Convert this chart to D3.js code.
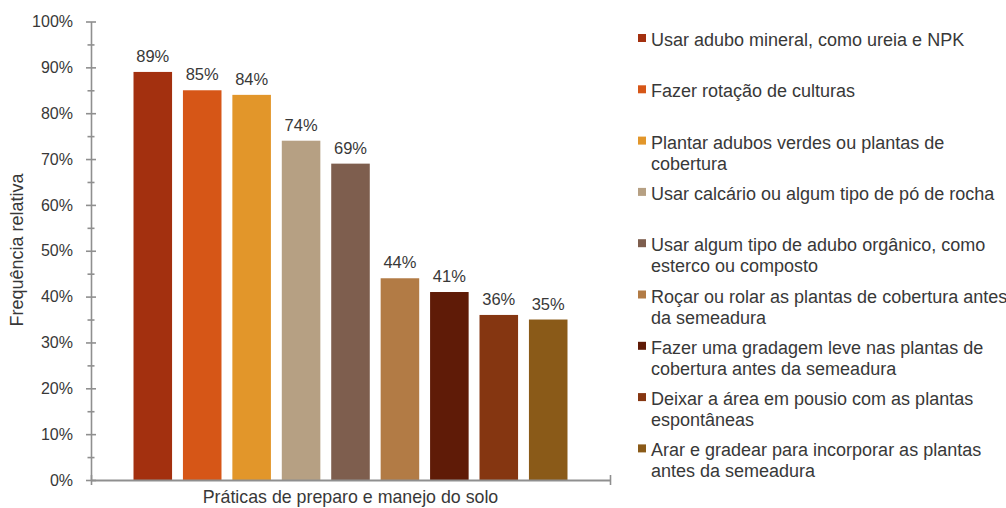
<!DOCTYPE html>
<html>
<head>
<meta charset="utf-8">
<script src="https://cdn.jsdelivr.net/npm/d3@7"></script>
<style>
  html, body { margin: 0; padding: 0; background: #fff; }
  svg { display: block; font-family: "Liberation Sans", Arial, sans-serif; }
</style>
</head>
<body>
<svg id="chart" width="1006" height="508"></svg>
<script>
// Práticas de preparo e manejo do solo — frequência relativa de adoção
const categories = [
  "Usar adubo mineral, como ureia e NPK",
  "Fazer rotação de culturas",
  "Plantar adubos verdes ou plantas de\ncobertura",
  "Usar calcário ou algum tipo de pó de rocha",
  "Usar algum tipo de adubo orgânico, como\nesterco ou composto",
  "Roçar ou rolar as plantas de cobertura antes\nda semeadura",
  "Fazer uma gradagem leve nas plantas de\ncobertura antes da semeadura",
  "Deixar a área em pousio com as plantas\nespontâneas",
  "Arar e gradear para incorporar as plantas\nantes da semeadura"
];
const values = [89, 85, 84, 74, 69, 44, 41, 36, 35];
const colors = ["#A3300F", "#D65617", "#E2962A", "#B6A083", "#7E5E4E",
                "#B27B45", "#5F1B07", "#853611", "#8A5A18"];
const yMajorTicks = [0, 10, 20, 30, 40, 50, 60, 70, 80, 90, 100];
const yMinorTicks = [5, 15, 25, 35, 45, 55, 65, 75, 85, 95];
const yTitle = "Frequência relativa";
const xTitle = "Práticas de preparo e manejo do solo";

const svg = d3.select("#chart");
const axisColor = "#8f8f8f";
const textColor = "#383838";

const plot = { left: 91, right: 610, top: 21.5, bottom: 480 };

const x = d3.scaleBand()
  .domain(categories)
  .range([plot.left, plot.right])
  .paddingInner(0.22)
  .paddingOuter(0.86);

const y = d3.scaleLinear()
  .domain([0, 100])
  .range([plot.bottom, plot.top]);

const color = d3.scaleOrdinal().domain(categories).range(colors);

const data = categories.map((c, i) => ({ name: c, value: values[i] }));

// Bars
svg.append("g")
  .selectAll("rect")
  .data(data)
  .join("rect")
  .attr("x", d => x(d.name))
  .attr("width", x.bandwidth())
  .attr("y", d => y(d.value))
  .attr("height", d => y(0) - y(d.value))
  .attr("fill", d => color(d.name));

// Value labels
svg.append("g")
  .selectAll("text")
  .data(data)
  .join("text")
  .attr("x", d => x(d.name) + x.bandwidth() / 2)
  .attr("y", d => y(d.value) - 10)
  .attr("text-anchor", "middle")
  .attr("font-size", 16.5)
  .attr("fill", textColor)
  .text(d => d.value + "%");

// Y axis with crossing major ticks and shorter minor ticks
const yAxisG = svg.append("g")
  .attr("transform", `translate(${plot.left},0)`)
  .call(d3.axisLeft(y)
    .tickValues(yMajorTicks)
    .tickFormat(d => d + "%")
    .tickSize(0)
    .tickPadding(18));
yAxisG.select(".domain").attr("stroke", axisColor).attr("stroke-width", 1.6);
yAxisG.selectAll(".tick line")
  .attr("x1", -5).attr("x2", 5)
  .attr("stroke", axisColor).attr("stroke-width", 1.6);
yAxisG.selectAll(".tick text")
  .attr("font-size", 16)
  .attr("font-family", "'Liberation Sans', Arial, sans-serif")
  .attr("fill", textColor);

const yMinorG = svg.append("g")
  .attr("transform", `translate(${plot.left},0)`)
  .call(d3.axisLeft(y).tickValues(yMinorTicks).tickFormat("").tickSize(0));
yMinorG.select(".domain").remove();
yMinorG.selectAll(".tick line")
  .attr("x1", -3.5).attr("x2", 3.5)
  .attr("stroke", axisColor).attr("stroke-width", 1.6);

// X axis baseline with end ticks
const xAxisG = svg.append("g")
  .attr("transform", `translate(0,${plot.bottom})`)
  .call(d3.axisBottom(d3.scaleLinear().domain([0, 1]).range([plot.left, plot.right]))
    .tickValues([0, 1]).tickFormat("").tickSizeInner(5).tickSizeOuter(0));
xAxisG.select(".domain").attr("stroke", axisColor).attr("stroke-width", 2);
xAxisG.selectAll(".tick line")
  .attr("y1", -5).attr("y2", 5)
  .attr("stroke", axisColor).attr("stroke-width", 1.6);

// Axis titles
svg.append("text")
  .attr("transform", `translate(23,250) rotate(-90)`)
  .attr("text-anchor", "middle")
  .attr("font-size", 18)
  .attr("fill", textColor)
  .text(yTitle);

svg.append("text")
  .attr("x", (plot.left + plot.right) / 2)
  .attr("y", 503)
  .attr("text-anchor", "middle")
  .attr("font-size", 17.8)
  .attr("fill", textColor)
  .text(xTitle);

// Legend
const legendStep = 51.3;
const legendLine = 21;
const legend = svg.append("g").attr("transform", "translate(638,46)");
const item = legend.selectAll("g")
  .data(data)
  .join("g")
  .attr("transform", (d, i) => `translate(0,${i * legendStep})`);
item.append("rect")
  .attr("x", 0).attr("y", -12)
  .attr("width", 8).attr("height", 8)
  .attr("fill", d => color(d.name));
item.append("text")
  .attr("font-size", 18)
  .attr("fill", textColor)
  .selectAll("tspan")
  .data(d => d.name.split("\n"))
  .join("tspan")
  .attr("x", 13)
  .attr("y", (t, j) => j * legendLine)
  .text(t => t);
</script>
</body>
</html>
